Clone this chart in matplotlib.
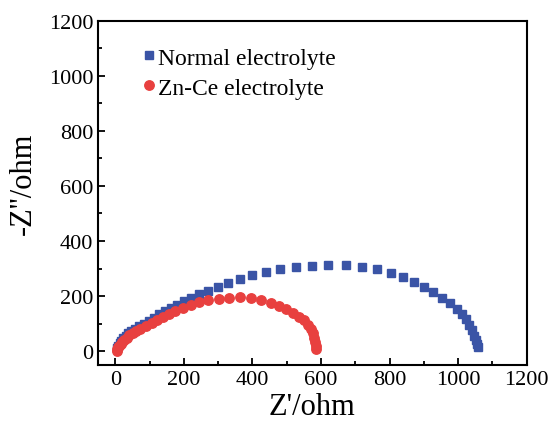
import matplotlib.pyplot as plt
from matplotlib.ticker import MultipleLocator

plt.rcParams['font.family'] = ['Liberation Serif', 'DejaVu Serif']

# Normal electrolyte (Z', -Z'')
normal_x = [5, 8, 12, 17, 23, 30, 38, 47, 57, 69, 83, 97, 112, 128, 145, 162, 181,
            201, 220, 243, 269, 298, 330, 364, 399, 439, 481, 527, 573, 621, 673,
            720, 764, 805, 840, 871, 901, 928, 953, 976, 996, 1011, 1023, 1033,
            1041, 1047, 1051, 1055, 1057]
normal_y = [12, 21, 30, 39, 48, 57, 66, 74, 82, 91, 100, 111, 122, 134, 145, 157, 169,
            181, 194, 208, 220, 233, 248, 261, 276, 288, 297, 306, 311, 313, 312,
            306, 297, 284, 268, 252, 233, 214, 195, 175, 155, 135, 116, 96,
            76, 57, 40, 25, 14]

# Zn-Ce electrolyte
znce_x = [5, 6, 8, 11, 15, 20, 26, 33, 41, 50, 60, 72, 89, 106, 121, 138, 155, 175,
          196, 220, 245, 271, 301, 332, 364, 395, 425, 454, 478, 499, 519, 537,
          551, 562, 570, 576, 580, 583, 584, 585]
znce_y = [2, 8, 14, 20, 27, 34, 42, 50, 58, 66, 74, 82, 91, 102, 112, 123, 134, 145,
          157, 168, 179, 186, 191, 195, 196, 194, 186, 176, 165, 152, 139, 126,
          112, 97, 82, 66, 50, 34, 20, 8]

fig = plt.figure(figsize=(5.52, 4.39), dpi=100)
ax = fig.add_axes([0.178, 0.166, 0.776, 0.785])

ax.plot(normal_x, normal_y, 's', color='#3A54A6', markersize=5.8, label='Normal electrolyte')
ax.plot(znce_x, znce_y, 'o', color='#E8403F', markersize=6.8, label='Zn-Ce electrolyte')

ax.set_xlim(-50, 1200)
ax.set_ylim(-50, 1200)
ax.xaxis.set_major_locator(MultipleLocator(200))
ax.xaxis.set_minor_locator(MultipleLocator(100))
ax.yaxis.set_major_locator(MultipleLocator(200))
ax.yaxis.set_minor_locator(MultipleLocator(100))
ax.tick_params(which='both', direction='in', top=False, right=False, width=1.3,
               labelsize=16)
ax.tick_params(which='major', length=5)
ax.tick_params(which='minor', length=3)
for s in ax.spines.values():
    s.set_linewidth(1.5)

ax.set_xlabel("Z'/ohm", fontsize=22, labelpad=2)
ax.set_ylabel("-Z''/ohm", fontsize=22)
ax.yaxis.set_label_coords(-0.14, 0.53)

ax.legend(loc='upper left', bbox_to_anchor=(0.08, 0.95), frameon=False, fontsize=17,
          handlelength=0.6, handletextpad=0.1, labelspacing=0.35, borderaxespad=0)

fig.savefig('out.png', dpi=100)
